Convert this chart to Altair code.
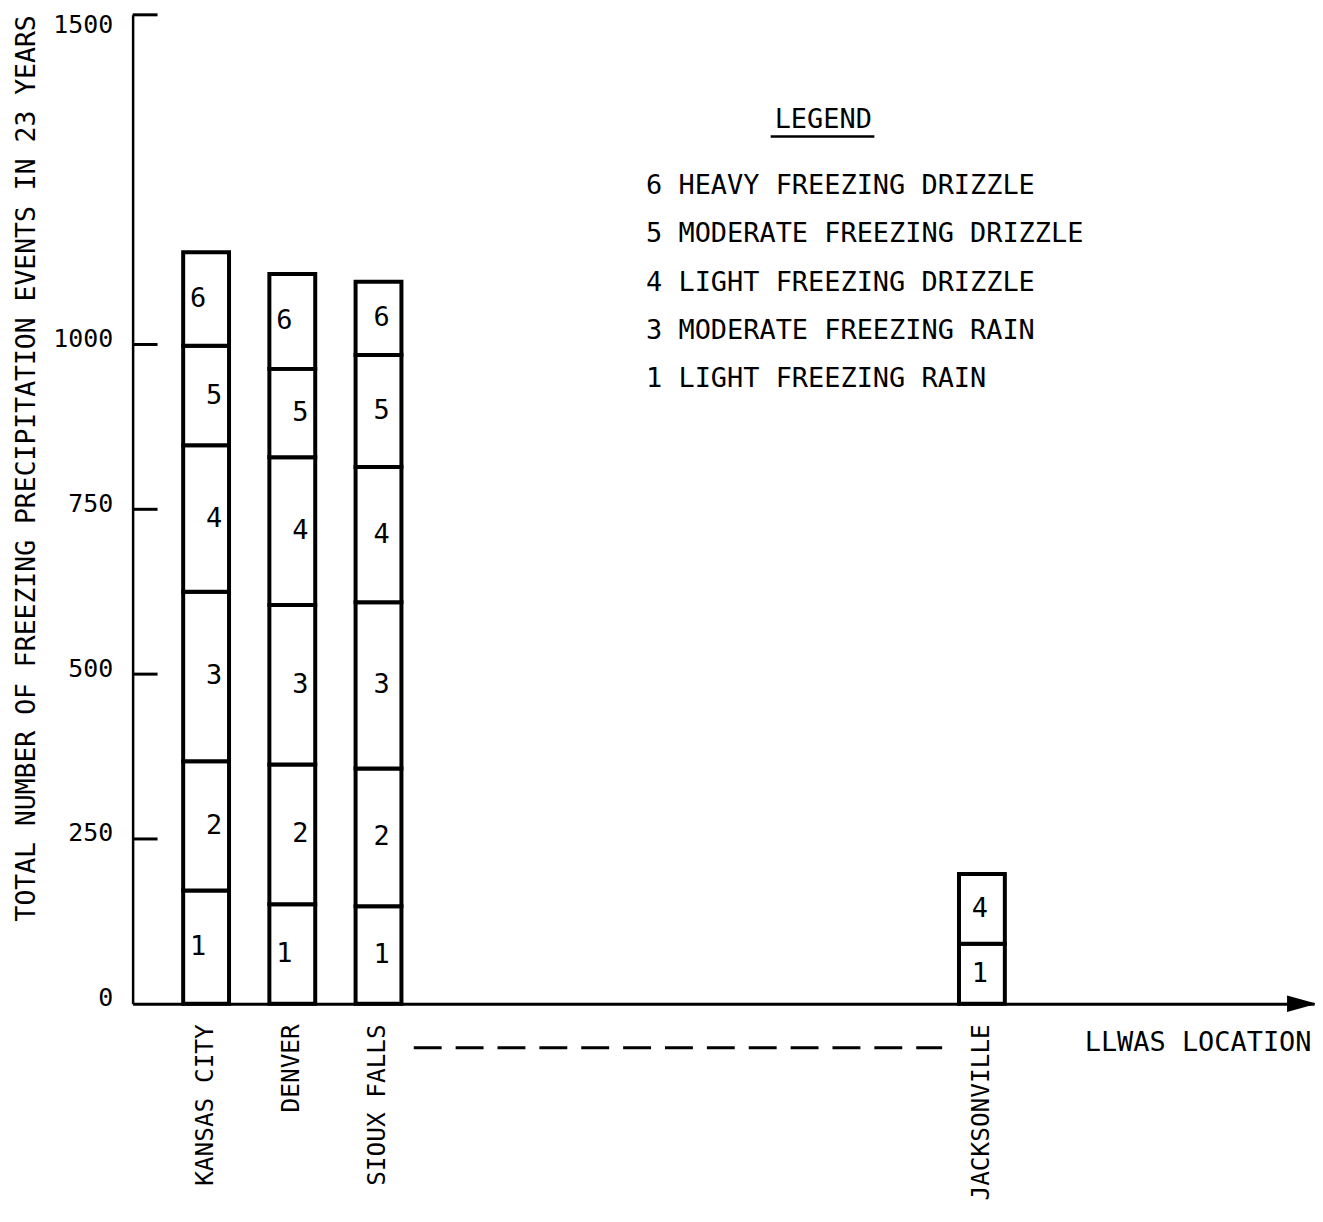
import altair as alt
import pandas as pd

# ---------------- data ----------------
locations = ["KANSAS CITY", "DENVER", "SIOUX FALLS", "JACKSONVILLE"]

kansas_city_types = [1, 2, 3, 4, 5, 6]
kansas_city_counts = [172, 196, 257, 222, 151, 142]

denver_types = [1, 2, 3, 4, 5, 6]
denver_counts = [151, 212, 242, 224, 134, 144]

sioux_falls_types = [1, 2, 3, 4, 5, 6]
sioux_falls_counts = [148, 209, 252, 205, 170, 111]

jacksonville_types = [1, 4]
jacksonville_counts = [91, 106]

# omitted locations (the dashed gap) and trailing space of the axis
x_domain = ["KANSAS CITY", "DENVER", "SIOUX FALLS",
            "#1", "#2", "#3", "#4", "#5", "#6",
            "JACKSONVILLE", "#7", "#8", "#9"]

y_tick_values = [0, 250, 500, 750, 1000, 1500]
inner_tick_values = [250, 500, 750, 1000, 1500]

legend_title = "LEGEND"
legend_lines = [
    "6 HEAVY FREEZING DRIZZLE",
    "5 MODERATE FREEZING DRIZZLE",
    "4 LIGHT FREEZING DRIZZLE",
    "3 MODERATE FREEZING RAIN",
    "1 LIGHT FREEZING RAIN",
]
y_title = "TOTAL NUMBER OF FREEZING PRECIPITATION EVENTS IN 23 YEARS"
x_note = "LLWAS LOCATION"

# ---------------- table ----------------
series = {
    "KANSAS CITY": (kansas_city_types, kansas_city_counts),
    "DENVER": (denver_types, denver_counts),
    "SIOUX FALLS": (sioux_falls_types, sioux_falls_counts),
    "JACKSONVILLE": (jacksonville_types, jacksonville_counts),
}
rows = []
for loc in locations:
    types, counts = series[loc]
    base = 0
    for t, c in zip(types, counts):
        rows.append({"loc": loc, "type": t, "label": str(t),
                     "y0": base, "y1": base + c, "mid": base + c / 2})
        base += c
df = pd.DataFrame(rows)

FONT = "DejaVu Sans Mono"
FS = 27
W, H = 1185, 992
BLACK = "#000000"

xscale = alt.Scale(domain=x_domain, paddingInner=0.468, paddingOuter=0.5865)
yscale = alt.Scale(domain=[0, 1500], nice=False, zero=True)

x_axis = alt.Axis(title=None, labelAngle=-90, labelPadding=20, ticks=False,
                  labelFontSize=24.5, domainWidth=3, domainColor=BLACK, labelLimit=0,
                  labelExpr="indexof(datum.value, '#') == 0 ? '' : datum.value")
y_axis = alt.Axis(title=y_title, values=y_tick_values, tickSize=0, grid=False, format="d",
                  labelFontSize=25, labelPadding=20, domainWidth=2.5, domainColor=BLACK,
                  labelOffset={"condition": {"test": "datum.value == 1500", "value": 10},
                               "value": -6},
                  titleFontSize=26.5,
                  titleX=-106, titleY=0, titleAlign="right", titleBaseline="middle",
                  titleAngle=-90, titleLimit=0)


def X():
    return alt.X("loc:N", scale=xscale, sort=x_domain, axis=x_axis)


bars = alt.Chart(df).mark_bar(fill="white", stroke=BLACK, strokeWidth=4).encode(
    x=X(),
    y=alt.Y("y1:Q", scale=yscale, axis=y_axis),
    y2="y0:Q",
)


def seg_labels(cond, dx):
    return alt.Chart(df).transform_filter(cond).mark_text(
        font=FONT, fontSize=FS, color=BLACK, baseline="middle", dx=dx
    ).encode(
        x=X(),
        y=alt.Y("mid:Q", scale=yscale, axis=y_axis),
        text="label:N",
    )


lab_left = seg_labels("(datum.loc == 'KANSAS CITY' || datum.loc == 'DENVER') && (datum.type == 1 || datum.type == 6)", -8)
lab_right = seg_labels("(datum.loc == 'KANSAS CITY' || datum.loc == 'DENVER') && datum.type > 1 && datum.type < 6", 8)
lab_sioux = seg_labels("datum.loc == 'SIOUX FALLS'", 3)
lab_jack = seg_labels("datum.loc == 'JACKSONVILLE'", -2)

ticks = alt.Chart(pd.DataFrame({"v": inner_tick_values})).mark_rule(
    color=BLACK, strokeWidth=3
).encode(
    y=alt.Y("v:Q", scale=yscale, axis=y_axis),
    x=alt.value(0), x2=alt.value(25),
)

one = pd.DataFrame({"k": [0]})

arrow = alt.Chart(one).mark_point(
    shape="M -1 -0.55 L 1 0 L -1 0.55 Z", filled=True, size=900,
    color=BLACK, opacity=1, strokeWidth=0
).encode(x=alt.value(W - 12), y=alt.value(H))

dash = alt.Chart(one).mark_rule(color=BLACK, strokeWidth=3, strokeDash=[28, 14]).encode(
    x=alt.value(282), x2=alt.value(812), y=alt.value(1036)
)

note = alt.Chart(one).mark_text(
    font=FONT, fontSize=FS, color=BLACK, align="left", baseline="alphabetic"
).encode(x=alt.value(955), y=alt.value(1039), text=alt.value(x_note))

leg_title = alt.Chart(one).mark_text(
    font=FONT, fontSize=FS, color=BLACK, align="left", baseline="alphabetic"
).encode(x=alt.value(644), y=alt.value(114), text=alt.value(legend_title))

leg_line = alt.Chart(one).mark_rule(color=BLACK, strokeWidth=2.5).encode(
    x=alt.value(640), x2=alt.value(744), y=alt.value(122)
)

leg_items = alt.Chart(one).mark_text(
    font=FONT, fontSize=FS, color=BLACK, align="left", baseline="alphabetic",
    lineHeight=48.3
).encode(x=alt.value(515), y=alt.value(180), text=alt.value(legend_lines))

chart = alt.layer(
    bars, lab_left, lab_right, lab_sioux, lab_jack, ticks,
    arrow, dash, note, leg_title, leg_line, leg_items
).properties(
    width=W, height=H,
    autosize=alt.AutoSizeParams(type="none"),
    padding={"left": 125, "top": 5, "right": 1, "bottom": 205},
    background="white",
).configure_view(stroke=None).configure_axis(
    labelFont=FONT, labelColor=BLACK,
    titleFont=FONT, titleColor=BLACK, titleFontWeight="normal",
)

chart.save("out.html", embed_options={"renderer": "svg", "actions": False})
